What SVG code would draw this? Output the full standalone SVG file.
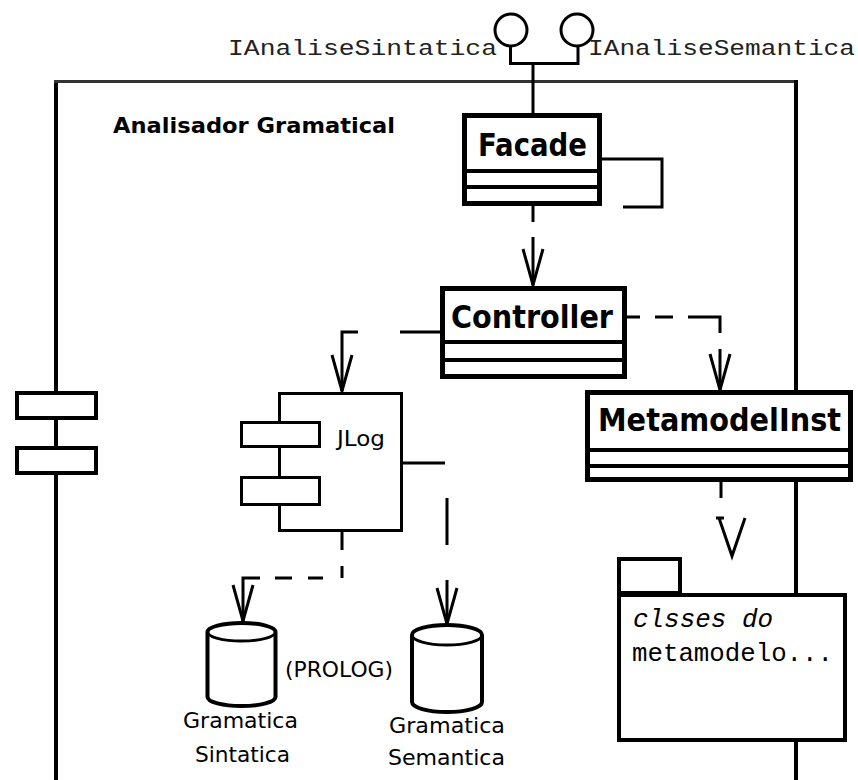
<svg xmlns="http://www.w3.org/2000/svg" width="858" height="780" viewBox="0 0 858 780">
<style>
.ln{fill:none;stroke:#000;stroke-width:3}
.box{fill:#fff;stroke:#000;stroke-width:5}
.sep{stroke:#000;stroke-width:4}
.thin{fill:#fff;stroke:#000;stroke-width:3}
.cyl{fill:#fff;stroke:#000;stroke-width:4}
.cls{font-family:"DejaVu Sans Condensed","DejaVu Sans",sans-serif;font-weight:bold;font-size:32px;fill:#000}
.lbl{font-family:"DejaVu Sans",sans-serif;font-size:22px;fill:#000}
.mono{font-family:"Liberation Mono",monospace;font-size:22px;fill:#222}
.pkg{font-family:"Liberation Mono",monospace;font-size:25px;fill:#000}
</style>
<defs>
<marker id="open" markerUnits="userSpaceOnUse" orient="auto" refX="0" refY="0" markerWidth="40" markerHeight="24" overflow="visible">
<path d="M-36,-10 L0,0 L-36,10" fill="none" stroke="#000" stroke-width="3"/>
</marker>
</defs>
<rect width="858" height="780" fill="#fff"/>

<g id="frame">
<path d="M56,780 V81" stroke="#000" stroke-width="4" fill="none"/>
<path d="M54,81.5 H796" stroke="#333" stroke-width="3" fill="none"/>
<path d="M796,80 V780" stroke="#000" stroke-width="4" fill="none"/>
<text x="113" y="133" font-family="DejaVu Sans,sans-serif" font-weight="bold" font-size="21" textLength="282" lengthAdjust="spacingAndGlyphs">Analisador Gramatical</text>
<rect x="17" y="393" width="79" height="25" fill="#fff" stroke="#000" stroke-width="4"/>
<rect x="17" y="448" width="79" height="25" fill="#fff" stroke="#000" stroke-width="4"/>
</g>

<g id="interfaces">
<circle cx="511" cy="30" r="16" class="thin"/>
<circle cx="577" cy="30" r="16" class="thin"/>
<text x="228" y="55" class="mono" textLength="269" lengthAdjust="spacingAndGlyphs">IAnaliseSintatica</text>
<text x="588" y="55" class="mono" textLength="267" lengthAdjust="spacingAndGlyphs">IAnaliseSemantica</text>
</g>

<g id="connectors">
<path class="ln" d="M510.5,46 V63.5 H578 V46"/>
<path class="ln" d="M533,63.5 V114"/>
<path class="ln" d="M602,159 H662 V207 H623"/>
<path class="ln" d="M533,206 V222"/>
<path class="ln" d="M533,237 V285" marker-end="url(#open)"/>
<path class="ln" d="M440,332 H400"/>
<path class="ln" d="M358,332 H342 V391" marker-end="url(#open)"/>
<path class="ln" d="M627,317 H640 M655,317 H673"/>
<path class="ln" d="M688,317 H720 V333"/>
<path class="ln" d="M720,349 V390" marker-end="url(#open)"/>
<path class="ln" d="M721,482 V498"/>
<path class="ln" d="M716,518 H724 M719,518 L732,556 L745,518"/>
<path class="ln" d="M342,532 V550 M342,566 V578 M323,578 H308 M292,578 H275"/>
<path class="ln" d="M260,578 H243 V621" marker-end="url(#open)"/>
<path class="ln" d="M403,463 H445 M447,498 V545"/>
<path class="ln" d="M447,580 V624" marker-end="url(#open)"/>
</g>

<g id="facade">
<rect x="464.5" y="115.5" width="135" height="88" class="box"/>
<line x1="464" y1="171" x2="600" y2="171" class="sep" stroke-width="5"/>
<line x1="464" y1="187" x2="600" y2="187" class="sep"/>
<text x="478" y="156" class="cls" textLength="109" lengthAdjust="spacingAndGlyphs">Facade</text>
</g>

<g id="controller">
<rect x="442.5" y="288.5" width="182" height="88" class="box"/>
<line x1="442" y1="342" x2="625" y2="342" class="sep" stroke-width="5"/>
<line x1="442" y1="360" x2="625" y2="360" class="sep"/>
<text x="451" y="328" class="cls" textLength="162" lengthAdjust="spacingAndGlyphs">Controller</text>
</g>

<g id="metamodelinst">
<rect x="587.5" y="392.5" width="263" height="87" class="box"/>
<line x1="587" y1="450" x2="851" y2="450" class="sep" stroke-width="5"/>
<line x1="587" y1="466" x2="851" y2="466" class="sep"/>
<text x="598" y="431" class="cls" textLength="243" lengthAdjust="spacingAndGlyphs">MetamodelInst</text>
</g>

<g id="jlog">
<rect x="279.5" y="393.5" width="122" height="137" class="thin"/>
<rect x="241.5" y="422.5" width="78" height="24" class="thin"/>
<rect x="241.5" y="477.5" width="78" height="27" class="thin"/>
<text x="337" y="446" class="lbl" font-size="20" textLength="48" lengthAdjust="spacingAndGlyphs">JLog</text>
</g>

<g id="metamodel-package">
<rect x="619" y="559" width="61" height="34" class="cyl" stroke-width="5"/>
<rect x="619" y="595" width="226" height="145" class="cyl" stroke-width="5"/>
<text x="633" y="627" class="pkg" font-style="italic" textLength="140" lengthAdjust="spacingAndGlyphs">clsses do</text>
<text x="632" y="661" class="pkg" textLength="201" lengthAdjust="spacingAndGlyphs">metamodelo...</text>
</g>

<g id="gramatica-sintatica">
<path class="cyl" d="M207.5,632 A34,9 0 0 1 275.5,632 V697 A34,9 0 0 1 207.5,697 Z"/>
<path class="ln" stroke-width="4" d="M207.5,632 A34,9 0 0 0 275.5,632"/>
<text x="183" y="728" class="lbl" textLength="115" lengthAdjust="spacingAndGlyphs">Gramatica</text>
<text x="195" y="762" class="lbl" textLength="95" lengthAdjust="spacingAndGlyphs">Sintatica</text>
</g>

<g id="prolog-label">
<text x="285" y="677" class="lbl" textLength="108" lengthAdjust="spacingAndGlyphs">(PROLOG)</text>
</g>

<g id="gramatica-semantica">
<path class="cyl" d="M412,635 A35,10 0 0 1 482,635 V702 A35,10 0 0 1 412,702 Z"/>
<path class="ln" stroke-width="5" d="M412,635 A35,10 0 0 0 482,635"/>
<text x="389" y="733" class="lbl" textLength="116" lengthAdjust="spacingAndGlyphs">Gramatica</text>
<text x="388" y="765" class="lbl" textLength="117" lengthAdjust="spacingAndGlyphs">Semantica</text>
</g>
</svg>
